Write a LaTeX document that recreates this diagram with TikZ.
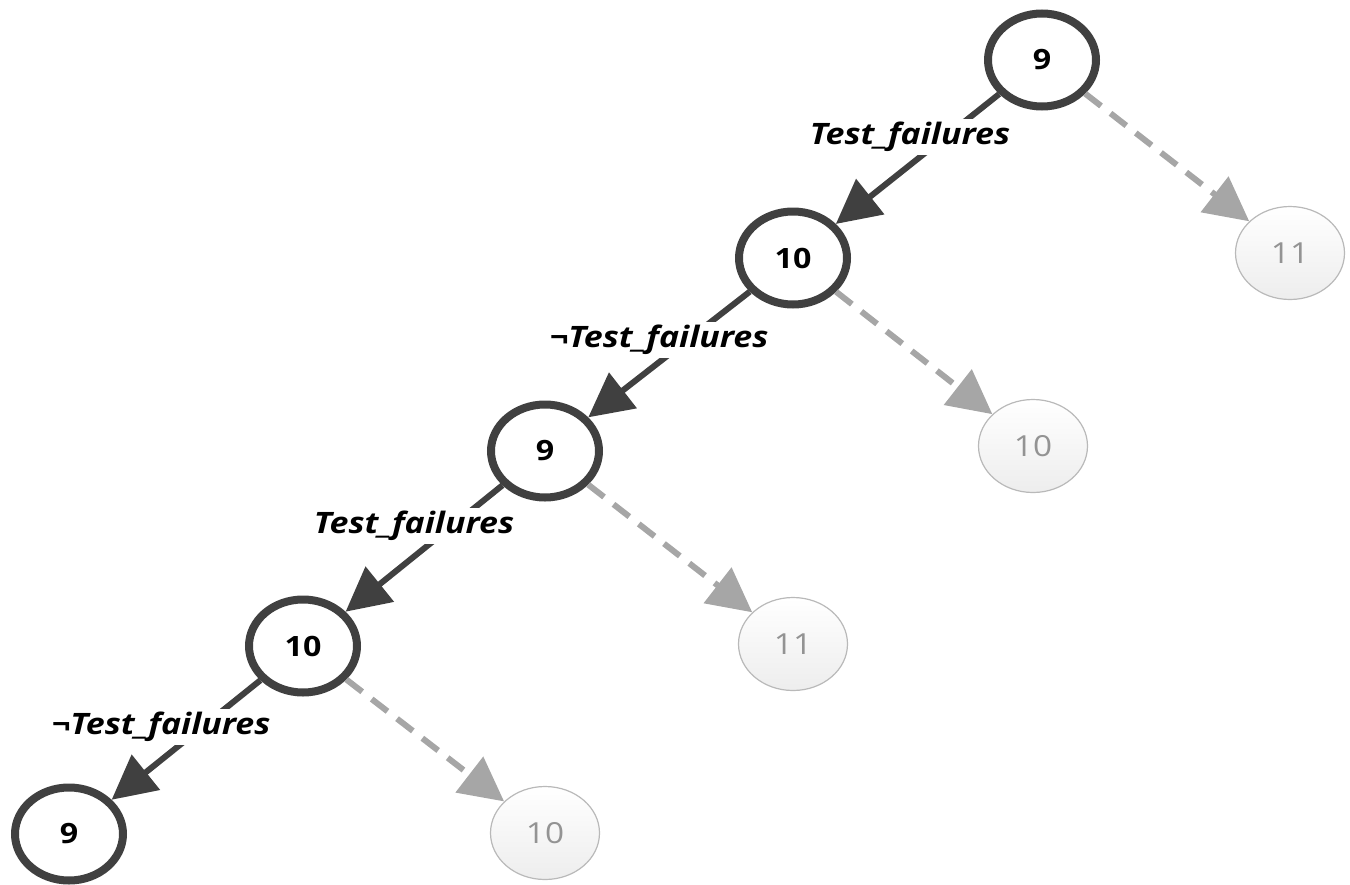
\documentclass[tikz,border=0pt]{standalone}
\usepackage{fontspec}
\usetikzlibrary{shapes.geometric,arrows.meta}
\newfontfamily\numfont[FakeStretch=1.15]{Open Sans}
\newfontfamily\lblfont[FakeStretch=1.15]{Open Sans}
\definecolor{ink}{HTML}{404040}
\definecolor{ghost}{HTML}{A6A6A6}
\begin{document}
\begin{tikzpicture}[x=1pt,y=-1pt,
  taken/.style={ellipse,draw=ink,line width=8pt,fill=white,
    minimum width=108pt,minimum height=93pt,inner sep=0pt,
    font=\numfont\bfseries\fontsize{28}{30}\selectfont},
  skipped/.style={ellipse,draw=gray!55,line width=1.2pt,
    top color=white,bottom color=gray!14,
    minimum width=109pt,minimum height=93pt,inner sep=0pt,
    text=gray!85,font=\numfont\fontsize{29}{31}\selectfont},
  takenedge/.style={draw=ink,line width=6pt,
    -{Triangle[length=44pt,width=44pt]}},
  skipedge/.style={draw=ghost,line width=6pt,dash pattern=on 20pt off 12pt,
    -{Triangle[length=44pt,width=44pt]}},
  cond/.style={fill=white,inner sep=3pt,
    font=\lblfont\bfseries\itshape\fontsize{29.5}{31}\selectfont}]
\useasboundingbox (0,0) rectangle (1350,884);

% path actually taken
\node[taken] (a) at (1042,60)  {9};
\node[taken] (b) at (793,258)  {10};
\node[taken] (c) at (545,451)  {9};
\node[taken] (d) at (303,646)  {10};
\node[taken] (e) at (69,834)   {9};

% alternatives not taken
\node[skipped] (a2) at (1290,253) {11};
\node[skipped] (b2) at (1033,446) {10};
\node[skipped] (c2) at (793,644)  {11};
\node[skipped] (d2) at (545,833)  {10};

\draw[takenedge] (a) -- (b);
\draw[takenedge] (b) -- (c);
\draw[takenedge] (c) -- (d);
\draw[takenedge] (d) -- (e);

\draw[skipedge] (a) -- (a2);
\draw[skipedge] (b) -- (b2);
\draw[skipedge] (c) -- (c2);
\draw[skipedge] (d) -- (d2);

% branch conditions
\node[cond] (l1) at (910,137) {Test\_failures};
\node[cond] (l2) at (659,340) {¬Test\_failures};
\node[cond] (l3) at (414,526) {Test\_failures};
\node[cond] (l4) at (161,727) {¬Test\_failures};
\end{tikzpicture}
\end{document}
